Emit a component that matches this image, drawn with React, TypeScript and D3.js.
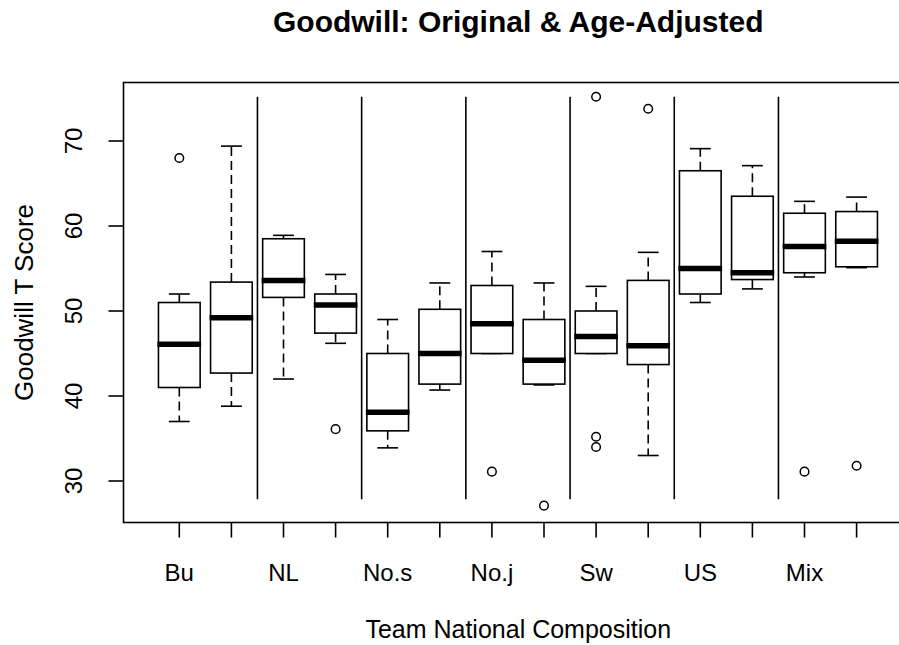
import * as d3 from "d3";

// group names, two boxes each (original, age-adjusted)
const groups = ["Bu", "NL", "No.s", "No.j", "Sw", "US", "Mix"];

const whiskerLow = [37, 38.8, 42, 46.2, 33.9, 40.7, 45, 41.3, 45, 33, 51, 52.6, 54, 55.1];
const q1 = [41, 42.7, 51.6, 47.4, 35.9, 41.4, 45, 41.4, 45, 43.7, 52, 53.7, 54.5, 55.2];
const medians = [46.1, 49.2, 53.6, 50.7, 38.1, 45, 48.5, 44.2, 47, 45.9, 55, 54.5, 57.6, 58.2];
const q3 = [51, 53.4, 58.5, 52, 45, 50.2, 53, 49, 50, 53.6, 66.5, 63.5, 61.5, 61.7];
const whiskerHigh = [52, 69.4, 58.9, 54.3, 49, 53.3, 57, 53.3, 52.9, 56.9, 69.1, 67.1, 62.9, 63.4];
const outliers = [[68], [], [], [36.1], [], [], [31.1], [27.1], [75.2, 35.2, 34], [73.8], [], [], [31.1], [31.8]];

const yTicks = [30, 40, 50, 60, 70];
const separatorRange = [27.85, 75.2];

const W = 899;
const H = 645;
const plotLeft = 123.5;
const plotRight = 913;
const plotTop = 82.5;
const plotBottom = 522.5;

const font = "'Liberation Sans', Arial, sans-serif";

export default function App() {
  const positions = d3.range(1, whiskerLow.length + 1);

  const x = d3.scaleLinear().domain([1, 14]).range([179.3, 856.6]);
  const y = d3.scaleLinear().domain([30, 70]).range([481, 141]);

  const step = x(2) - x(1);
  const boxW = step * 0.8;
  const capW = boxW / 2;
  const cx = (plotLeft + plotRight) / 2;

  return (
    <svg width={W} height={H} style={{ position: "absolute", left: 0, top: 0, background: "#fff" }}>
      <rect x={0} y={0} width={W} height={H} fill="#fff" />
      <text x={cx} y={32} textAnchor="middle" fontFamily={font} fontWeight="bold" fontSize={30}>
        Goodwill: Original &amp; Age-Adjusted
      </text>

      {/* separators between groups */}
      {groups.slice(1).map((g, i) => {
        const sx = (x(2 * i + 2) + x(2 * i + 3)) / 2;
        return (
          <line key={g} x1={sx} x2={sx} y1={y(separatorRange[0])} y2={y(separatorRange[1])}
            stroke="#000" strokeWidth={1.6} />
        );
      })}

      {positions.map((p, i) => {
        const px = x(p);
        return (
          <g key={p} stroke="#000" fill="none">
            {/* whiskers */}
            {whiskerHigh[i] > q3[i] && (
              <line x1={px} x2={px} y1={y(q3[i])} y2={y(whiskerHigh[i])} strokeWidth={1.6} strokeDasharray="9,5" />
            )}
            {whiskerLow[i] < q1[i] && (
              <line x1={px} x2={px} y1={y(q1[i])} y2={y(whiskerLow[i])} strokeWidth={1.6} strokeDasharray="9,5" />
            )}
            <line x1={px - capW / 2} x2={px + capW / 2} y1={y(whiskerHigh[i])} y2={y(whiskerHigh[i])} strokeWidth={1.6} />
            <line x1={px - capW / 2} x2={px + capW / 2} y1={y(whiskerLow[i])} y2={y(whiskerLow[i])} strokeWidth={1.6} />
            {/* box */}
            <rect x={px - boxW / 2} y={y(q3[i])} width={boxW} height={y(q1[i]) - y(q3[i])} fill="#fff" strokeWidth={1.6} />
            <line x1={px - boxW / 2 - 1} x2={px + boxW / 2 + 1} y1={y(medians[i])} y2={y(medians[i])} strokeWidth={5.5} />
            {outliers[i].map((o, j) => (
              <circle key={j} cx={px} cy={y(o)} r={4.3} strokeWidth={1.5} fill="#fff" />
            ))}
          </g>
        );
      })}

      {/* frame */}
      <rect x={plotLeft} y={plotTop} width={plotRight - plotLeft} height={plotBottom - plotTop}
        fill="none" stroke="#000" strokeWidth={1.6} />

      {/* x axis */}
      {positions.map((p) => (
        <line key={p} x1={x(p)} x2={x(p)} y1={plotBottom} y2={plotBottom + 15} stroke="#000" strokeWidth={1.6} />
      ))}
      {groups.map((g, i) => (
        <text key={g} x={x(2 * i + 1)} y={581} textAnchor="middle" fontFamily={font} fontSize={24}>
          {g}
        </text>
      ))}
      <text x={cx} y={638} textAnchor="middle" fontFamily={font} fontSize={25}>
        Team National Composition
      </text>

      {/* y axis */}
      {yTicks.map((t) => (
        <g key={t}>
          <line x1={plotLeft - 15} x2={plotLeft} y1={y(t)} y2={y(t)} stroke="#000" strokeWidth={1.6} />
          <text transform={`translate(82,${y(t)}) rotate(-90)`} textAnchor="middle" fontFamily={font} fontSize={24}>
            {t}
          </text>
        </g>
      ))}
      <text transform={`translate(33,${(plotTop + plotBottom) / 2}) rotate(-90)`} textAnchor="middle"
        fontFamily={font} fontSize={26}>
        Goodwill T Score
      </text>
    </svg>
  );
}
